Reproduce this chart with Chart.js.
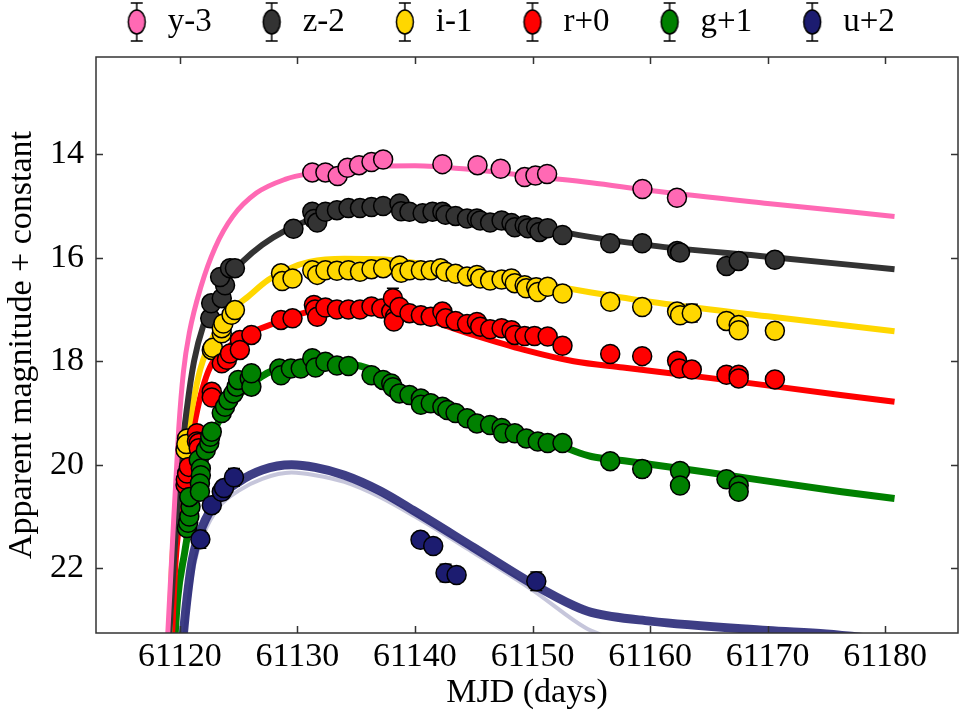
<!DOCTYPE html>
<html>
<head>
<meta charset="utf-8">
<script src="https://cdn.jsdelivr.net/npm/chart.js@4.4.1/dist/chart.umd.min.js"></script>
<style>
  html, body { margin: 0; padding: 0; background: #fff; }
  #wrap { width: 969px; height: 715px; }
</style>
</head>
<body>
<div id="wrap"><canvas id="lc" width="969" height="715"></canvas></div>
<script>
// 軸の目盛り
const xTicks = [61120, 61130, 61140, 61150, 61160, 61170, 61180];
const yTicks = [14, 16, 18, 20, 22];

// 観測点 (MJD, 等級, 誤差)
const mjdY = [61131.26, 61132.38, 61133.42, 61134.26, 61135.24, 61136.3, 61137.29, 61142.33, 61145.32, 61147.29, 61149.33, 61150.25, 61151.24, 61159.35, 61162.29];
const magY = [14.35, 14.35, 14.42, 14.26, 14.21, 14.15, 14.10, 14.19, 14.21, 14.28, 14.44, 14.41, 14.38, 14.67, 14.84];
const errY = [0.03, 0.03, 0.03, 0.03, 0.03, 0.03, 0.03, 0.03, 0.03, 0.03, 0.03, 0.03, 0.03, 0.05, 0.05];

const mjdZ = [61122.58, 61122.66, 61123.56, 61123.84, 61123.42, 61124.26, 61124.68, 61129.66,
  61131.26, 61131.4, 61131.68, 61132.38, 61133.36, 61134.34, 61135.32, 61136.3, 61137.29, 61138.68, 61138.82, 61139.53,
  61140.65, 61141.49, 61142.33, 61142.6, 61143.45, 61144.43, 61145.27, 61145.55, 61146.39, 61147.37, 61148.21, 61148.49,
  61149.33, 61149.61, 61150.31, 61150.59, 61151.29, 61152.55, 61156.61, 61159.33, 61162.3, 61162.55, 61166.5, 61167.54, 61170.62];
const magZ = [17.17, 16.88, 16.78, 16.53, 16.37, 16.20, 16.20, 15.44,
  15.11, 15.25, 15.32, 15.11, 15.08, 15.04, 15.04, 15.02, 15.0, 14.95, 15.1, 15.11,
  15.14, 15.11, 15.11, 15.17, 15.19, 15.24, 15.24, 15.28, 15.32, 15.28, 15.33, 15.41,
  15.37, 15.43, 15.41, 15.5, 15.43, 15.56, 15.72, 15.72, 15.87, 15.9, 16.16, 16.06, 16.04];

const mjdI = [61120.48, 61120.61, 61120.55, 61122.71, 61122.8, 61123.56, 61123.56, 61123.7, 61124.39, 61124.68,
  61128.6, 61128.7, 61129.58,
  61131.26, 61131.68, 61132.38, 61133.36, 61134.34, 61135.32, 61136.3, 61137.29, 61138.68, 61138.82, 61139.53,
  61140.5, 61141.34, 61142.18, 61142.6, 61143.45, 61144.43, 61145.27, 61145.55, 61146.39, 61147.37, 61148.21, 61148.49,
  61149.33, 61149.47, 61150.31, 61150.45, 61151.29, 61152.55, 61156.61, 61159.33, 61162.3, 61162.55, 61163.55,
  61166.5, 61167.54, 61167.54, 61170.62];
const magI = [19.71, 19.49, 19.6, 17.78, 17.74, 17.46, 17.36, 17.27, 17.1, 17.01,
  16.3, 16.45, 16.4,
  16.24, 16.33, 16.24, 16.25, 16.24, 16.27, 16.22, 16.2, 16.15, 16.29, 16.24,
  16.24, 16.24, 16.2, 16.27, 16.31, 16.36, 16.33, 16.4, 16.44, 16.42, 16.4, 16.49,
  16.53, 16.59, 16.57, 16.66, 16.56, 16.69, 16.85, 16.95, 17.04, 17.11, 17.07,
  17.22, 17.3, 17.4, 17.41];

const mjdR = [61120.48, 61120.5, 61120.61, 61120.76, 61121.45, 61121.45, 61121.6, 61121.6, 61122.71, 61122.71,
  61123.56, 61124.0, 61124.26, 61125.1, 61125.1, 61126.08, 61128.6, 61129.58,
  61131.4, 61131.5, 61131.68, 61132.38, 61133.36, 61134.34, 61135.32, 61136.3, 61137.14, 61137.98, 61138.12, 61138.3,
  61138.2, 61138.68, 61139.53, 61140.5, 61141.34, 61142.33, 61142.6, 61143.45, 61144.43, 61145.27, 61145.55, 61146.39,
  61147.37, 61148.21, 61148.49, 61149.33, 61150.17, 61151.29, 61152.55, 61156.61, 61159.33, 61162.3, 61162.5, 61163.55,
  61166.5, 61167.54, 61167.54, 61170.62];
const magR = [20.39, 20.29, 20.17, 20.04, 19.39, 19.55, 19.58, 19.68, 18.59, 18.7,
  18.04, 17.97, 17.85, 17.59, 17.78, 17.49, 17.2, 17.17,
  16.91, 17.0, 17.14, 16.96, 17.0, 17.0, 17.0, 16.94, 16.98, 17.04, 16.78, 17.14,
  17.23, 16.95, 17.07, 17.11, 17.14, 17.04, 17.17, 17.22, 17.28, 17.24, 17.33, 17.38,
  17.36, 17.4, 17.49, 17.51, 17.51, 17.52, 17.7, 17.86, 17.9, 17.99, 18.14, 18.16,
  18.26, 18.26, 18.33, 18.35];

const mjdG = [61120.6, 61120.7, 61120.8, 61120.9, 61120.8, 61121.6, 61121.78, 61121.78, 61121.7, 61121.7, 61122.2, 61122.5,
  61122.58, 61122.71, 61123.56, 61123.84, 61124.12, 61124.55, 61124.82, 61124.96, 61125.94, 61126.08, 61126.08,
  61128.46, 61128.6, 61129.44, 61130.28, 61131.26, 61131.54, 61132.38, 61133.36, 61134.34, 61136.3, 61137.29, 61137.98,
  61138.12, 61138.68, 61139.53, 61140.5, 61140.5, 61141.34, 61142.33, 61142.75, 61143.45, 61144.43, 61145.27, 61146.39,
  61147.37, 61147.5, 61148.49, 61149.47, 61150.45, 61151.29, 61152.55, 61156.61, 61159.33, 61162.55, 61162.55,
  61166.5, 61167.54, 61167.54];
const magG = [21.22, 21.12, 21.0, 20.81, 20.62, 19.9, 20.07, 20.2, 20.36, 20.52, 19.72, 19.58,
  19.46, 19.36, 19.0, 18.88, 18.75, 18.62, 18.49, 18.36, 18.33, 18.49, 18.23,
  18.14, 18.27, 18.14, 18.14, 17.94, 18.12, 18.01, 18.08, 18.09, 18.27, 18.36, 18.43,
  18.5, 18.62, 18.65, 18.72, 18.84, 18.81, 18.88, 18.94, 19.0, 19.1, 19.2, 19.23,
  19.29, 19.39, 19.39, 19.49, 19.55, 19.58, 19.58, 19.93, 20.08, 20.12, 20.4,
  20.28, 20.4, 20.52];

const mjdU = [61121.74, 61122.71, 61123.56, 61123.75, 61124.6, 61140.47, 61141.55, 61142.6, 61143.54, 61150.32];
const magU = [21.44, 20.78, 20.52, 20.45, 20.24, 21.45, 21.57, 22.09, 22.13, 22.25];
const errU = [0.17, 0.08, 0.08, 0.08, 0.17, 0.1, 0.1, 0.17, 0.12, 0.18];

// 目立つ誤差棒 (MJD, 等級, 誤差)
const bigErrR = [[61138.12, 16.96, 0.37]];
const bigErrI = [[61120.55, 19.6, 0.18], [61163.55, 17.07, 0.17]];
const bigErrG = [[61159.33, 20.08, 0.16]];

// モデル曲線
const fitMjdY = [61118.8, 61119.3, 61119.9, 61120.3, 61120.8, 61121.8, 61123, 61124.5, 61126.5, 61129, 61131, 61135, 61140, 61145, 61150, 61155, 61160, 61170, 61180.8];
const fitMagY = [24.0, 21.8, 19.3, 18.2, 17.45, 16.55, 15.8, 15.2, 14.75, 14.48, 14.37, 14.25, 14.22, 14.3, 14.43, 14.55, 14.7, 14.95, 15.2];

const fitMjdZ = [61118.9, 61119.5, 61120.1, 61120.6, 61121.2, 61122, 61123, 61124, 61125.3, 61127, 61129, 61131, 61134, 61137, 61140, 61145, 61150, 61155, 61160, 61170, 61180.8];
const fitMagZ = [24.0, 21.8, 19.9, 18.9, 18.0, 17.3, 16.8, 16.42, 16.08, 15.75, 15.47, 15.27, 15.1, 15.04, 15.08, 15.22, 15.4, 15.6, 15.76, 15.98, 16.22];

const fitMjdI = [61119.0, 61119.35, 61119.92, 61120.76, 61121.74, 61123, 61124.5, 61125.8, 61127.5, 61129.4, 61131, 61134, 61137, 61140, 61145, 61150, 61155, 61160, 61170, 61180.8];
const fitMagI = [24.0, 21.84, 20.55, 19.26, 18.15, 17.45, 17.0, 16.75, 16.43, 16.2, 16.08, 16.02, 16.03, 16.1, 16.27, 16.47, 16.67, 16.85, 17.13, 17.42];

const fitMjdR = [61119.2, 61119.64, 61120.34, 61121.2, 61122.4, 61124, 61126, 61128, 61130, 61133, 61136.7, 61140.4, 61145.1, 61149.3, 61153.5, 61157.7, 61165, 61176.2, 61180.8];
const fitMagR = [24.0, 21.84, 20.55, 19.25, 18.2, 17.75, 17.45, 17.27, 17.1, 16.97, 16.97, 17.15, 17.5, 17.78, 18.0, 18.12, 18.32, 18.65, 18.78];

const fitMjdG = [61119.4, 61119.8, 61120.4, 61121, 61122, 61123, 61124.5, 61126.9, 61128, 61130, 61133, 61136.7, 61138, 61140, 61142, 61145, 61148, 61150, 61152.5, 61155, 61157.8, 61165, 61176.3, 61180.8];
const fitMagG = [24.0, 22.6, 21.7, 20.9, 19.95, 19.3, 18.78, 18.3, 18.17, 18.08, 18.05, 18.2, 18.45, 18.7, 18.88, 19.15, 19.38, 19.5, 19.65, 19.84, 19.92, 20.15, 20.52, 20.65];

const fitMjdU = [61120.0, 61120.5, 61121.05, 61121.9, 61123.3, 61125, 61127, 61129.5, 61131.5, 61134, 61137, 61140, 61145, 61150, 61153.5, 61155, 61160, 61170, 61175, 61180.8];
const fitMagU = [24.0, 22.8, 21.84, 21.2, 20.65, 20.33, 20.1, 20.0, 20.05, 20.2, 20.5, 20.9, 21.6, 22.3, 22.72, 22.85, 23.02, 23.2, 23.27, 23.4];
const fitMjdU2 = [61120.1, 61120.6, 61121.2, 61122, 61123.3, 61125, 61127, 61129.5, 61131.5, 61134, 61137, 61140, 61145, 61150, 61154.5, 61156];
const fitMagU2 = [24.0, 22.9, 21.95, 21.35, 20.82, 20.5, 20.27, 20.15, 20.2, 20.33, 20.62, 21.0, 21.7, 22.42, 23.15, 23.3];

const bandLabels = ['y-3', 'z-2', 'i-1', 'r+0', 'g+1', 'u+2'];
const bandColors = ['#ff69b4', '#333333', '#ffd700', '#ff0000', '#008000', '#1c1c70'];

const serif = "'Liberation Serif', 'Times New Roman', serif";

function pts(xs, ys) {
    return xs.map((x, i) => ({ x: x, y: ys[i] }));
}

// 凡例の記号 (誤差棒付き楕円)
function legendGlyph(color) {
    const c = document.createElement('canvas');
    c.width = 22; c.height = 42;
    const g = c.getContext('2d');
    g.strokeStyle = '#000';
    g.lineWidth = 1.5;
    g.beginPath();
    g.moveTo(11, 2); g.lineTo(11, 40);
    g.moveTo(5, 2); g.lineTo(17, 2);
    g.moveTo(5, 40); g.lineTo(17, 40);
    g.stroke();
    g.beginPath();
    g.ellipse(11, 21, 8.5, 12, 0, 0, Math.PI * 2);
    g.fillStyle = color;
    g.fill();
    g.stroke();
    return c;
}

function fitLine(xs, ys, color, width) {
    return {
        data: pts(xs, ys), showLine: true, pointRadius: 0, borderColor: color,
        borderWidth: width, cubicInterpolationMode: 'monotone', order: 20, clip: 0
    };
}

function obs(xs, ys, errs, color, order, extra) {
    return {
        label: '', data: pts(xs, ys), errs: errs, extraErrs: extra || [],
        backgroundColor: color, borderColor: '#000', borderWidth: 1.5,
        pointRadius: 9.5, pointHoverRadius: 9.5, order: order
    };
}

const datasets = [
    obs(mjdY, magY, errY, bandColors[0], 6),
    obs(mjdZ, magZ, null, bandColors[1], 5),
    obs(mjdI, magI, null, bandColors[2], 4, bigErrI),
    obs(mjdR, magR, null, bandColors[3], 3, bigErrR),
    obs(mjdG, magG, null, bandColors[4], 2, bigErrG),
    obs(mjdU, magU, errU, bandColors[5], 1),
    fitLine(fitMjdY, fitMagY, '#ff69b4', 5),
    fitLine(fitMjdZ, fitMagZ, '#333333', 6),
    fitLine(fitMjdI, fitMagI, '#ffd700', 6),
    fitLine(fitMjdR, fitMagR, '#ff0000', 6),
    fitLine(fitMjdG, fitMagG, '#008000', 7),
    fitLine(fitMjdU2, fitMagU2, 'rgba(28,28,112,0.25)', 4),
    fitLine(fitMjdU, fitMagU, 'rgba(28,28,112,0.85)', 9)
];

// 凡例の高さと位置の調整 (枠でのクリップはしない)
const legendShift = {
    id: 'legendShift',
    beforeLayout(chart) {
        const lg = chart.legend;
        if (!lg || lg._shifted) return;
        lg._shifted = true;
        const fit = lg.fit;
        lg.fit = function () { fit.call(this); this.height = 57; };
        lg.draw = function () {
            if (!this.options.display) return;
            const c = this.ctx;
            c.save();
            c.translate(25, -40);
            this._draw();
            c.restore();
        };
    }
};

// 誤差棒
const errBars = {
    id: 'errBars',
    beforeDatasetDraw(chart, args) {
        const ds = chart.data.datasets[args.index];
        if (!ds.errs && !ds.extraErrs) return;
        const { ctx, scales: { x, y } } = chart;
        const bars = [];
        if (ds.errs) ds.data.forEach((p, i) => bars.push([p.x, p.y, ds.errs[i]]));
        (ds.extraErrs || []).forEach(b => bars.push(b));
        ctx.save();
        ctx.strokeStyle = '#000';
        ctx.lineWidth = 1.5;
        bars.forEach(b => {
            const px = x.getPixelForValue(b[0]);
            const t = y.getPixelForValue(b[1] - b[2]);
            const bt = y.getPixelForValue(b[1] + b[2]);
            ctx.beginPath();
            ctx.moveTo(px, t); ctx.lineTo(px, bt);
            ctx.moveTo(px - 6, t); ctx.lineTo(px + 6, t);
            ctx.moveTo(px - 6, bt); ctx.lineTo(px + 6, bt);
            ctx.stroke();
        });
        ctx.restore();
    }
};

// 枠と内向きの目盛り
const frame = {
    id: 'frame',
    afterDraw(chart) {
        const { ctx, chartArea: a, scales: { x, y } } = chart;
        ctx.save();
        ctx.strokeStyle = '#333';
        ctx.lineWidth = 1.5;
        ctx.strokeRect(a.left, a.top, a.right - a.left, a.bottom - a.top);
        ctx.beginPath();
        xTicks.forEach(v => {
            const px = Math.round(x.getPixelForValue(v)) + 0.5;
            ctx.moveTo(px, a.bottom); ctx.lineTo(px, a.bottom - 7);
            ctx.moveTo(px, a.top); ctx.lineTo(px, a.top + 7);
        });
        yTicks.forEach(v => {
            const py = Math.round(y.getPixelForValue(v)) + 0.5;
            ctx.moveTo(a.left, py); ctx.lineTo(a.left + 7, py);
            ctx.moveTo(a.right, py); ctx.lineTo(a.right - 7, py);
        });
        ctx.stroke();
        ctx.restore();
    }
};

new Chart(document.getElementById('lc'), {
    type: 'scatter',
    data: { datasets: datasets },
    options: {
        responsive: false,
        animation: false,
        devicePixelRatio: 1,
        layout: { padding: { right: 2 } },
        plugins: {
            tooltip: { enabled: false },
            legend: {
                position: 'top',
                labels: {
                    usePointStyle: true,
                    pointStyleWidth: 29,
                    padding: 45.5,
                    color: '#000',
                    font: { family: serif, size: 33 },
                    generateLabels: () => bandLabels.map((t, i) => ({
                        text: t, pointStyle: legendGlyph(bandColors[i]),
                        datasetIndex: i, hidden: false, lineWidth: 0
                    }))
                }
            }
        },
        scales: {
            x: {
                type: 'linear',
                min: 61112.86,
                max: 61186.2,
                grid: { display: false, drawTicks: false },
                border: { display: false },
                ticks: { color: '#000', font: { family: serif, size: 34 }, padding: 4, callback: v => String(v) },
                afterBuildTicks: s => { s.ticks = xTicks.map(v => ({ value: v })); },
                afterFit: s => { s.height = 82; },
                title: { display: true, text: 'MJD (days)', color: '#000', font: { family: serif, size: 34 }, padding: { top: 0, bottom: 2 } }
            },
            y: {
                type: 'linear',
                reverse: true,
                min: 12.12,
                max: 23.25,
                grid: { display: false, drawTicks: false },
                border: { display: false },
                ticks: { color: '#000', font: { family: serif, size: 34 }, padding: 12, callback: v => String(v) },
                afterBuildTicks: s => { s.ticks = yTicks.map(v => ({ value: v })); },
                afterFit: s => { s.width = 96; },
                title: { display: true, text: 'Apparent magnitude + constant', color: '#000', font: { family: serif, size: 34 }, padding: { top: 2, bottom: 0 } }
            }
        }
    },
    plugins: [legendShift, errBars, frame]
});
</script>
</body>
</html>
